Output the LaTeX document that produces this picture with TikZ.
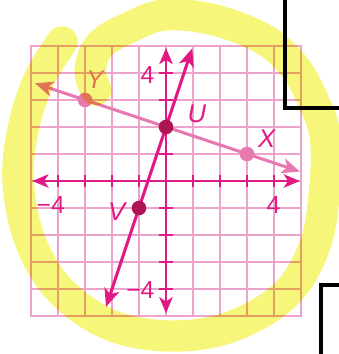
\documentclass[tikz,border=0pt]{standalone}
\usepackage{fontspec}
\setmainfont{Liberation Sans}
\usepackage{tikz}
\usetikzlibrary{arrows.meta}
\definecolor{gridpink}{RGB}{236,164,204}
\definecolor{axismag}{RGB}{226,24,132}
\definecolor{linepink}{RGB}{232,122,178}
\definecolor{dotdark}{RGB}{172,20,84}
\definecolor{hlyellow}{RGB}{246,246,122}

\tikzset{
  gridline/.style={gridpink, line width=1.5pt},
  gridborder/.style={gridpink, line width=2.8pt},
  axisline/.style={axismag, line width=3pt, {Stealth[length=17pt,width=14pt,inset=4.5pt]}-{Stealth[length=17pt,width=14pt,inset=4.5pt]}},
  tickmark/.style={axismag, line width=2.4pt},
  uvline/.style={axismag, line width=3.2pt, {Stealth[length=19pt,width=16pt,inset=5pt]}-{Stealth[length=19pt,width=16pt,inset=5pt]}},
  xyline/.style={linepink, line width=3.2pt, {Stealth[length=19pt,width=16pt,inset=5pt]}-{Stealth[length=19pt,width=16pt,inset=5pt]}},
  darkdot/.style={circle, fill=dotdark, minimum size=0.54cm, inner sep=0pt},
  pinkdot/.style={circle, fill=linepink, minimum size=0.54cm, inner sep=0pt},
  ptlabel/.style={font=\fontsize{27}{30}\selectfont\itshape, inner sep=0pt},
  numlabel/.style={axismag, font=\fontsize{26}{30}\selectfont, inner sep=0pt},
  boxline/.style={black, line width=4.5pt},
  highlight/.style={hlyellow, line width=33pt, line cap=round, line join=round, blend mode=multiply}
}

\begin{document}
\begin{tikzpicture}[x=1cm,y=1cm]
  \useasboundingbox (-6.148,-6.407) rectangle (6.407,6.704);

  \draw[gridline] (-5,-5) grid (5,5);
  \draw[gridborder] (-5,-5) rectangle (5,5);

  \coordinate (xl) at (-4.95,0);
  \coordinate (xr) at (4.96,0);
  \coordinate (yb) at (0,-4.9);
  \coordinate (yt) at (0,4.93);
  \draw[axisline] (xl) -- (xr);
  \draw[axisline] (yb) -- (yt);
  \foreach \t in {-4,-3,-2,-1,1,2,3,4} {
    \draw[tickmark] (\t,-0.24) -- (\t,0.24);
    \draw[tickmark] (-0.26,\t) -- (0.26,\t);
  }

  \node[numlabel, anchor=east] (ny4) at (-0.42,3.93) {4};
  \node[numlabel, anchor=east] (nym4) at (-0.42,-4.03) {−4};
  \node[numlabel, anchor=east] (nxm4) at (-3.74,-0.9) {−4};
  \node[numlabel] (nx4) at (3.98,-0.9) {4};

  % the two lines
  \coordinate (uvS) at (-2.22,-4.66);
  \coordinate (uvE) at (0.97,4.91);
  \coordinate (xyS) at (-4.85,3.62);
  \coordinate (xyE) at (4.96,0.35);
  \draw[xyline] (xyS) -- (xyE);
  \draw[uvline] (uvS) -- (uvE);

  \node[pinkdot] (Y) at (-3,3) {};
  \node[pinkdot] (X) at (3,1) {};
  \node[darkdot] (U) at (0,2) {};
  \node[darkdot] (V) at (-1,-1) {};

  \node[ptlabel, axismag] (labU) at (1.14,2.5) {U};
  \node[ptlabel, axismag] (labX) at (3.73,1.58) {X};
  \node[ptlabel, linepink] (labY) at (-2.63,3.74) {Y};
  \node[ptlabel, axismag] (labV) at (-1.83,-1.12) {V};

  % bits of the page next to it
  \draw[boxline] (4.407,6.9) -- (4.407,2.704) -- (6.6,2.704);
  \draw[boxline] (5.741,-6.6) -- (5.741,-3.852) -- (6.6,-3.852);

  % highlighter
  \draw[highlight] plot[smooth, tension=0.6] coordinates {
    (-3.85,5.15) (-4.67,3.82) (-5.26,2.07) (-5.48,0.04) (-5.04,-2.19)
    (-3.93,-4.04) (-2.07,-5.33) (0.15,-5.74) (2.37,-5.41) (4.41,-4.22)
    (5.52,-2.37) (5.89,-0.15) (5.89,1.70) (5.44,3.0) (4.78,4.19)
    (3.67,5.22) (1.81,5.96) (-0.04,6.15) (-1.33,5.70) (-2.44,5.04)
    (-2.81,4.11) (-2.6,3.38)};
\end{tikzpicture}
\end{document}
